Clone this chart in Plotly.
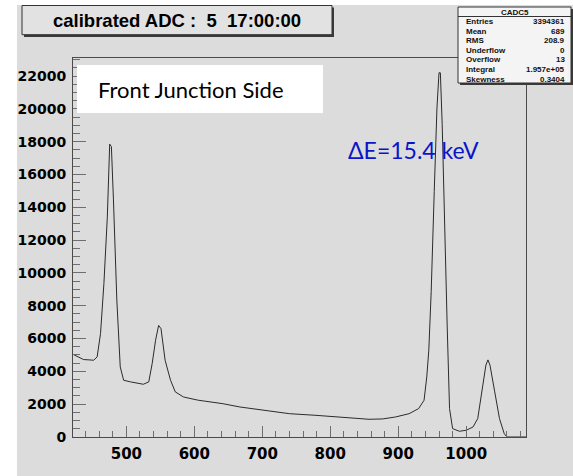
import plotly.graph_objects as go

# ---- data ----
adc_channel = [421, 430, 437, 445, 452, 457, 462, 467, 472, 475.5, 478, 481, 486, 491, 496,
               506, 516, 525, 533, 538, 543, 547.5, 551, 557, 565, 572, 584, 594, 606, 613,
               642, 667, 700, 740, 779, 813, 857, 877, 896, 916, 930, 938, 942, 945, 948.5,
               953, 957, 960, 962, 964.7, 968, 972, 975.5, 980, 990, 1000, 1010, 1017,
               1024.5, 1029, 1032, 1035, 1042, 1049, 1056, 1060, 1088]
counts = [5050, 4850, 4720, 4700, 4680, 4880, 6300, 9360, 13400, 17850, 17700, 14450, 8340,
          4270, 3460, 3360, 3300, 3215, 3360, 4480, 5900, 6800, 6600, 4680, 3460, 2750, 2440,
          2340, 2240, 2200, 2030, 1830, 1630, 1420, 1320, 1220, 1080, 1100, 1220, 1420, 1730,
          2240, 3660, 5290, 8860, 14970, 20060, 22200, 22200, 19040, 12930, 6820, 1730, 510,
          350, 410, 610, 1120, 3160, 4380, 4700, 4380, 2750, 1120, 200, 0, 0]

title_text = "calibrated ADC :  5  17:00:00"
stats_name = "CADC5"
stats_labels = ["Entries", "Mean", "RMS", "Underflow", "Overflow", "Integral", "Skewness"]
stats_values = ["3394361", "689", "208.9", "0", "13", "1.957e+05", "0.3404"]
panel_label = "Front Junction Side"
resolution_label = "ΔE=15.4 keV"

# ---- layout geometry (pixels) ----
W, H = 573, 476
L, R, T, B = 73, 526, 58, 437
PW, PH = R - L, B - T


def px(x):
    return (x - L) / PW


def py(y):
    return (B - y) / PH


GRAY = "#dcdcdc"
tickfont = dict(family="DejaVu Sans", size=14, color="black", weight="bold")

fig = go.Figure()
fig.add_trace(go.Scatter(x=adc_channel, y=counts, mode="lines",
                         line=dict(color="#2b2b2b", width=1), showlegend=False,
                         hoverinfo="skip"))

shapes = []
# white strips outside the grey canvas
shapes.append(dict(type="rect", xref="paper", yref="paper", x0=px(0), x1=px(17), y0=py(H), y1=py(0),
                   fillcolor="white", line=dict(width=0), layer="above"))
shapes.append(dict(type="rect", xref="paper", yref="paper", x0=px(0), x1=px(W), y0=py(5), y1=py(0),
                   fillcolor="white", line=dict(width=0), layer="above"))
# title box with shadow
shapes.append(dict(type="rect", xref="paper", yref="paper", x0=px(24), x1=px(334), y0=py(37), y1=py(7.5),
                   fillcolor="#3a3a3a", line=dict(width=0), layer="above"))
shapes.append(dict(type="rect", xref="paper", yref="paper", x0=px(22), x1=px(332), y0=py(34.7), y1=py(5.5),
                   fillcolor="#e2e2e2", line=dict(color="#333", width=1), layer="above"))
# stats box with shadow
shapes.append(dict(type="rect", xref="paper", yref="paper", x0=px(460), x1=px(573), y0=py(85), y1=py(9),
                   fillcolor="#3a3a3a", line=dict(width=0), layer="above"))
shapes.append(dict(type="rect", xref="paper", yref="paper", x0=px(458), x1=px(571), y0=py(83), y1=py(7),
                   fillcolor="#f4f4f4", line=dict(color="#333", width=1), layer="above"))
shapes.append(dict(type="line", xref="paper", yref="paper", x0=px(458), x1=px(571), y0=py(16.5), y1=py(16.5),
                   line=dict(color="#333", width=1), layer="above"))
# white label box
shapes.append(dict(type="rect", xref="paper", yref="paper", x0=px(77), x1=px(323), y0=py(113), y1=py(65),
                   fillcolor="white", line=dict(width=0), layer="above"))

annotations = []
annotations.append(dict(text=title_text, xref="paper", yref="paper", x=px(177), y=py(20.5),
                        xanchor="center", yanchor="middle", showarrow=False,
                        font=dict(family="Liberation Sans", size=18.5, color="black", weight="bold")))
annotations.append(dict(text=stats_name, xref="paper", yref="paper", x=px(514.5), y=py(12),
                        xanchor="center", yanchor="middle", showarrow=False,
                        font=dict(family="Liberation Sans", size=8, color="#111", weight="bold")))
for i, (lab, val) in enumerate(zip(stats_labels, stats_values)):
    yy = 21.7 + 9.55 * i
    annotations.append(dict(text=lab, xref="paper", yref="paper", x=px(464), y=py(yy),
                            xanchor="left", yanchor="middle", showarrow=False,
                            font=dict(family="Liberation Sans", size=8, color="#111", weight="bold")))
    annotations.append(dict(text=val, xref="paper", yref="paper", x=px(567), y=py(yy),
                            xanchor="right", yanchor="middle", showarrow=False,
                            font=dict(family="Liberation Sans", size=8, color="#111", weight="bold")))
annotations.append(dict(text=panel_label, xref="paper", yref="paper", x=px(96), y=py(89),
                        xanchor="left", yanchor="middle", showarrow=False,
                        font=dict(family="Lato", size=22, color="black")))
annotations.append(dict(text=resolution_label, xref="paper", yref="paper", x=px(346), y=py(150),
                        xanchor="left", yanchor="middle", showarrow=False,
                        font=dict(family="Lato", size=23, color="#0a14c8")))

fig.update_layout(
    width=W, height=H,
    margin=dict(l=L, r=W - R, t=T, b=H - B, pad=0),
    paper_bgcolor=GRAY, plot_bgcolor=GRAY,
    shapes=shapes, annotations=annotations,
    xaxis=dict(range=[421.5, 1088], dtick=100, tick0=0, ticks="inside", ticklen=11,
               tickcolor="#6e6e6e", tickwidth=1, showgrid=False, zeroline=False,
               showline=True, linecolor="#4a4a4a", linewidth=1, mirror=True,
               tickfont=dict(family="DejaVu Sans", size=15, color="black", weight="bold"),
               ticklabelstandoff=3, tickformat="d",
               minor=dict(dtick=20, ticks="inside", ticklen=6, tickcolor="#6e6e6e", showgrid=False)),
    yaxis=dict(range=[0, 23100], dtick=2000, tick0=0, ticks="inside", ticklen=13,
               tickcolor="#6e6e6e", tickwidth=1, showgrid=False, zeroline=False,
               showline=True, linecolor="#4a4a4a", linewidth=1, mirror=True,
               tickfont=tickfont, ticklabelstandoff=3, tickformat="d",
               minor=dict(dtick=500, ticks="inside", ticklen=7, tickcolor="#6e6e6e", showgrid=False)),
)

fig.write_html("out.html")
